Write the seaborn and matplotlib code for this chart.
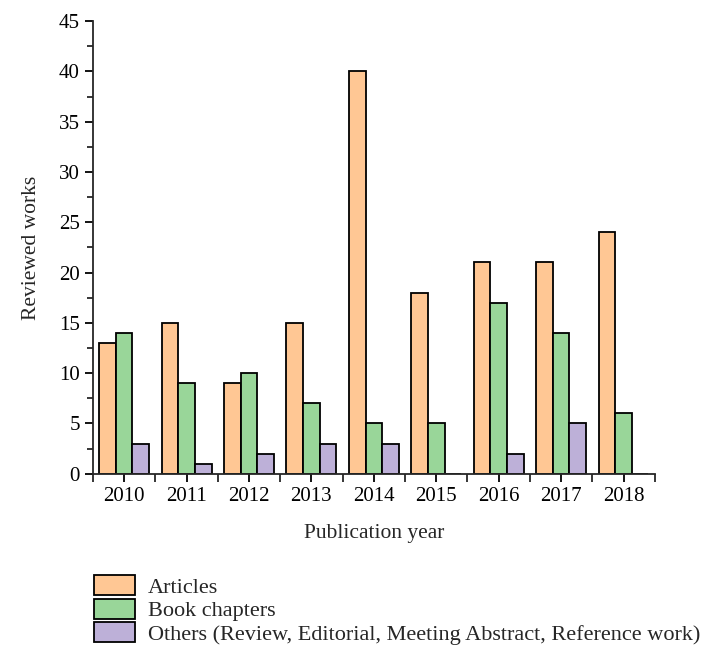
import seaborn as sns
import matplotlib.pyplot as plt
import pandas as pd
from matplotlib.ticker import MultipleLocator, FixedLocator

years = ["2010", "2011", "2012", "2013", "2014", "2015", "2016", "2017", "2018"]
articles = [13, 15, 9, 15, 40, 18, 21, 21, 24]
book_chapters = [14, 9, 10, 7, 5, 5, 17, 14, 6]
others = [3, 1, 2, 3, 3, 0, 2, 5, 0]
series_names = ["Articles", "Book chapters",
                "Others (Review, Editorial, Meeting Abstract, Reference work)"]
colors = ["#FFC794", "#99D699", "#BDB0D8"]

rows = []
for name, vals in zip(series_names, [articles, book_chapters, others]):
    for y, v in zip(years, vals):
        rows.append({"year": y, "count": v, "type": name})
df = pd.DataFrame(rows)

sns.set_style("ticks")
plt.rcParams["font.family"] = ["Liberation Serif", "DejaVu Serif"]
plt.rcParams["axes.linewidth"] = 1.3

fig = plt.figure(figsize=(7.04, 6.58), dpi=100)
ax = fig.add_axes([0.132, 0.280, 0.798, 0.688])

sns.barplot(data=df, x="year", y="count", hue="type", palette=colors, saturation=1,
            width=0.8, edgecolor="black", linewidth=1.3, ax=ax, legend=True)

ax.set_xlim(-0.5, len(years) - 0.5)
ax.set_ylim(0, 45)
ax.yaxis.set_major_locator(MultipleLocator(5))
ax.yaxis.set_minor_locator(MultipleLocator(2.5))
ax.xaxis.set_minor_locator(FixedLocator([i - 0.5 for i in range(len(years) + 1)]))
ax.tick_params(axis="both", which="major", length=6, width=1.3, labelsize=15, colors="black")
ax.tick_params(axis="both", which="minor", length=4, width=1.3)
ax.tick_params(axis="x", which="minor", length=6)
sns.despine(ax=ax)

ax.set_xlabel("Publication year", fontsize=15.5, labelpad=13)
ax.set_ylabel("Reviewed works", fontsize=15.5, labelpad=13)

handles, labels = ax.get_legend_handles_labels()
ax.get_legend().remove()
fig.legend(handles, labels, loc="upper left", bbox_to_anchor=(0.133, 0.126),
           frameon=False, fontsize=16, handlelength=1.85, handleheight=1.0,
           labelspacing=0.05, handletextpad=0.6, borderaxespad=0, borderpad=0)

fig.savefig("out.png", dpi=100)
